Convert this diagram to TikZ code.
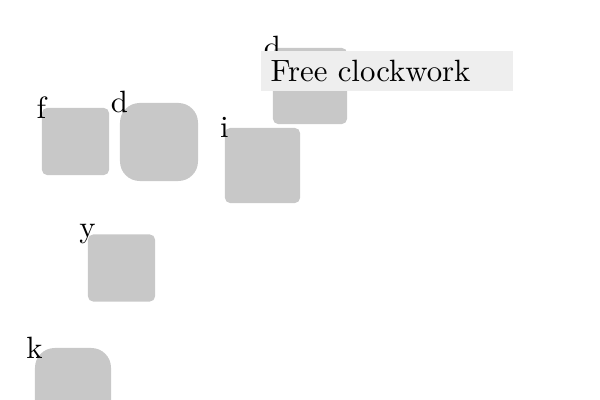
\documentclass[tikz,border=0pt]{standalone}
\usepackage{tikz}

\begin{document}
\begin{tikzpicture}[x=0.0125cm, y=-0.0125cm,
  font=\fontsize{10.95}{13}\selectfont,
  tile/.style={rectangle, fill=tilegray, inner sep=0pt, rounded corners=1.8pt},
  blob/.style={tile, rounded corners=7pt},
  tag/.style={inner sep=0pt},
  banner/.style={rectangle, fill=bannergray, anchor=north west, minimum height=0.5cm,
    text width=2.9cm, align=left, inner xsep=0.125cm, inner ysep=0pt}]
\definecolor{tilegray}{HTML}{C8C8C8}
\definecolor{bannergray}{HTML}{EEEEEE}
\useasboundingbox (0,0) rectangle (600,400);

\node[tile, minimum size=0.8375cm] (f) at (75.5,141.5) {};
\node[tag] at (f.north west) {f};
\node[blob, minimum size=0.975cm] (d) at (159,142) {};
\node[tag] at (d.north west) {d};
\node[tile, minimum size=0.9375cm] (i) at (262.5,165.5) {};
\node[tag] at (i.north west) {i};
\node[tile, minimum width=0.925cm, minimum height=0.95cm] (dd) at (310,86) {};
\node[tag] at (dd.north west) {d};
\node[tile, minimum size=0.8375cm] (y) at (121.5,268) {};
\node[tag] at (y.north west) {y};
\node[blob, minimum size=0.95cm] (k) at (73,386) {};
\node[tag] at (k.north west) {k};

% label on top
\node[banner] (free) at (260,50) {Free clockwork};
\end{tikzpicture}
\end{document}
